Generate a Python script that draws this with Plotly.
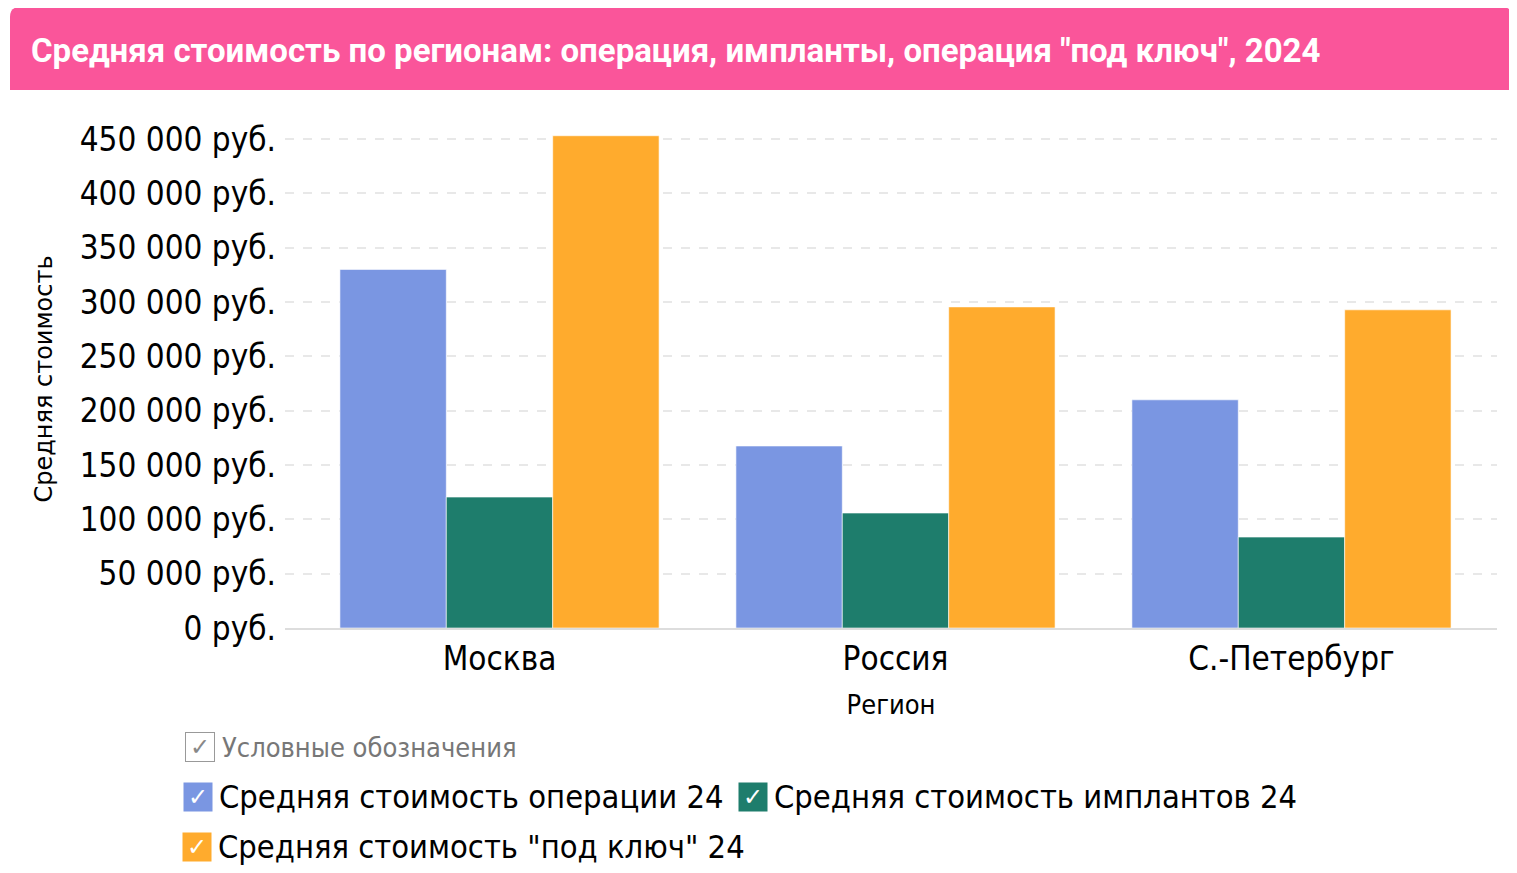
import plotly.graph_objects as go

regions = ["Москва", "Россия", "С.-Петербург"]
series_names = ["Средняя стоимость операции 24", "Средняя стоимость имплантов 24", "Средняя стоимость \"под ключ\" 24"]
op_cost = [330000, 167500, 210000]
implant_cost = [120500, 105800, 83700]
turnkey_cost = [453000, 295500, 292800]
tick_values = [0, 50000, 100000, 150000, 200000, 250000, 300000, 350000, 400000, 450000]
tick_labels = ["0 руб.", "50 000 руб.", "100 000 руб.", "150 000 руб.", "200 000 руб.", "250 000 руб.",
               "300 000 руб.", "350 000 руб.", "400 000 руб.", "450 000 руб."]
title_text = "Средняя стоимость по регионам: операция, импланты, операция \"под ключ\", 2024"
legend_title = "Условные обозначения"

colors = ["#7A96E2", "#1E7D6C", "#FFAB2D"]
values = [op_cost, implant_cost, turnkey_cost]

OFF = 8  # page body margin
W, H = 1517 - OFF, 873 - 2 * OFF
# plot area in screen pixels
SL, SR, ST, SB = 285, 1497, 130, 628
L, T = SL - OFF, ST - OFF
R = W - (SR - OFF)
B = H - (SB - OFF)
PW, PH = SR - SL, SB - ST

def px(x):
    return (x - SL) / PW

def py(y):
    return (SB - y) / PH

fig = go.Figure()
for name, vals, c in zip(series_names, values, colors):
    fig.add_trace(go.Bar(x=regions, y=vals, name=name,
                         marker=dict(color=c, line=dict(color="rgba(255,255,255,0.6)", width=1))))

FONT = "DejaVu Sans Condensed"

# banner
x0, x1, y0, y1, r = 10, 1512, 7, 90, 10
path = (f"M {px(x0)} {py(y1)} L {px(x0)} {py(y0 + r)} Q {px(x0)} {py(y0)} {px(x0 + r)} {py(y0)} "
        f"L {px(x1 - r)} {py(y0)} Q {px(x1)} {py(y0)} {px(x1)} {py(y0 + r)} L {px(x1)} {py(y1)} Z")
shapes = [dict(type="path", path=path, xref="paper", yref="paper", fillcolor="#FA559A",
               line=dict(width=0), layer="below")]

annotations = [dict(text=f"<b>{title_text}</b>", x=px(29), y=py(50), xref="paper", yref="paper",
                    xanchor="left", yanchor="middle", showarrow=False,
                    font=dict(family="Roboto", size=33, color="white"))]

# legend title checkbox
annotations.append(dict(text="✓", x=px(200), y=py(747), xref="paper", yref="paper", xanchor="center",
                        yanchor="middle", showarrow=False, width=26, height=26, bordercolor="#999999",
                        borderwidth=1, bgcolor="white",
                        font=dict(family="DejaVu Sans", size=24, color="#888888")))
annotations.append(dict(text=legend_title, x=px(220), y=py(747), xref="paper", yref="paper", xanchor="left",
                        yanchor="middle", showarrow=False,
                        font=dict(family=FONT, size=27, color="#777777")))

legend_pos = [(198, 797), (753, 797), (197, 847)]
for name, c, (bx, by) in zip(series_names, colors, legend_pos):
    annotations.append(dict(text="✓", x=px(bx), y=py(by), xref="paper", yref="paper", xanchor="center",
                            yanchor="middle", showarrow=False, width=26, height=26, bgcolor=c, borderpad=1,
                            font=dict(family="DejaVu Sans", size=24, color="white")))
    annotations.append(dict(text=name, x=px(bx + 19), y=py(by), xref="paper", yref="paper", xanchor="left",
                            yanchor="middle", showarrow=False,
                            font=dict(family=FONT, size=32.4, color="black")))

fig.update_layout(
    width=W, height=H,
    margin=dict(l=L, r=R, t=T, b=B, autoexpand=False),
    paper_bgcolor="white", plot_bgcolor="white",
    barmode="group", bargap=0.194, bargroupgap=0,
    showlegend=False,
    shapes=shapes, annotations=annotations,
    font=dict(family=FONT, color="black"),
)
fig.update_xaxes(range=[-0.5417, 2.519], showgrid=False, showline=True, linecolor="#DDDDDD", linewidth=2,
                 tickfont=dict(family=FONT, size=33, color="black"), ticks="",
                 title=dict(text="Регион", font=dict(family=FONT, size=27, color="black"), standoff=19))
fig.update_yaxes(range=[0, 458280], tickvals=tick_values, ticktext=tick_labels, showgrid=True,
                 gridcolor="#E8E8E8", griddash="dash", gridwidth=1.5, zeroline=False, showline=False,
                 tickfont=dict(family=FONT, size=33, color="black"), ticks="", ticklabelstandoff=8,
                 title=dict(text="Средняя стоимость", font=dict(family="DejaVu Sans", size=24, color="black"),
                            standoff=20))

fig.write_html("out.html")
